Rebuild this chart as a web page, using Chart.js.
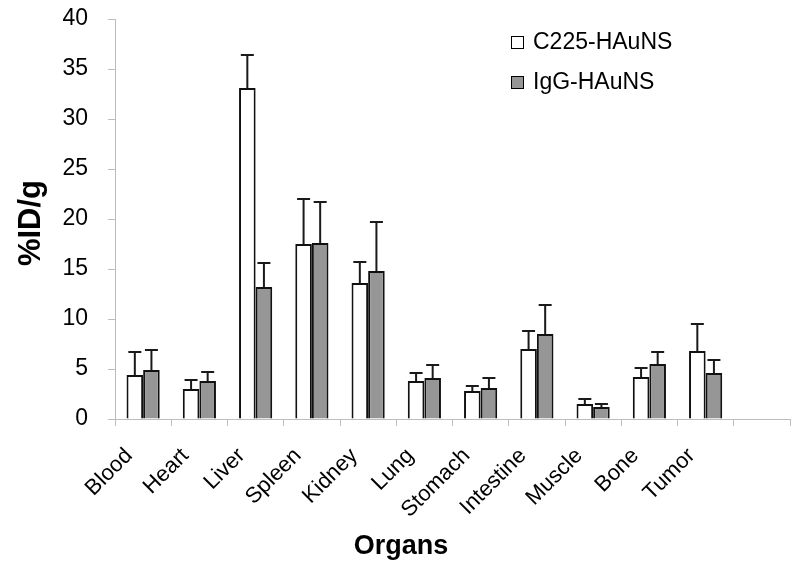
<!DOCTYPE html>
<html>
<head>
<meta charset="utf-8">
<script src="https://cdn.jsdelivr.net/npm/chart.js@4"></script>
<style>
  html, body { margin: 0; padding: 0; background: #fff; }
  #wrap { width: 800px; height: 569px; }
</style>
</head>
<body>
<div id="wrap"><canvas id="chart"></canvas></div>
<script>
const organs = ["Blood", "Heart", "Liver", "Spleen", "Kidney", "Lung", "Stomach",
  "Intestine", "Muscle", "Bone", "Tumor", ""];
const seriesNames = ["C225-HAuNS", "IgG-HAuNS"];
const c225Values = [4.4, 3.0, 33.1, 17.5, 13.6, 3.8, 2.8, 7.0, 1.5, 4.2, 6.8, null];
const c225Errors = [2.3, 0.9, 3.3, 4.5, 2.1, 0.8, 0.5, 1.8, 0.5, 0.9, 2.7, null];
const iggValues = [4.9, 3.8, 13.2, 17.6, 14.8, 4.1, 3.1, 8.5, 1.2, 5.5, 4.6, null];
const iggErrors = [2.0, 0.9, 2.4, 4.1, 4.9, 1.3, 1.0, 2.9, 0.3, 1.2, 1.3, null];
const yTicks = [0, 5, 10, 15, 20, 25, 30, 35, 40];

const errors = [c225Errors, iggErrors];

// upper error bars on top of each bar
const errorBarPlugin = {
  id: "errorBars",
  afterDatasetsDraw(chart) {
    const ctx = chart.ctx;
    const y = chart.scales.y;
    ctx.save();
    ctx.strokeStyle = "#1a1a1a";
    ctx.lineWidth = 2;
    chart.data.datasets.forEach((ds, i) => {
      const meta = chart.getDatasetMeta(i);
      meta.data.forEach((bar, j) => {
        const v = ds.data[j];
        const e = errors[i][j];
        if (v == null || e == null) return;
        const top = y.getPixelForValue(v + e);
        ctx.beginPath();
        ctx.moveTo(bar.x, bar.y);
        ctx.lineTo(bar.x, top);
        ctx.moveTo(bar.x - 6.5, top);
        ctx.lineTo(bar.x + 6.5, top);
        ctx.stroke();
      });
    });
    ctx.restore();
  }
};

// legend box and axis titles
const decorPlugin = {
  id: "decor",
  afterDraw(chart) {
    const ctx = chart.ctx;
    ctx.save();
    chart.data.datasets.forEach((ds, i) => {
      const cy = 42 + i * 40;
      ctx.fillStyle = ds.backgroundColor;
      ctx.fillRect(511, cy - 6, 12, 12);
      ctx.strokeStyle = "#000";
      ctx.lineWidth = 1;
      ctx.strokeRect(511.5, cy - 5.5, 12, 12);
      ctx.fillStyle = "#000";
      ctx.font = "23px 'Liberation Sans', Arial, sans-serif";
      ctx.textBaseline = "middle";
      ctx.textAlign = "left";
      ctx.fillText(ds.label, 533, cy + 1);
    });
    ctx.font = "bold 27px 'Liberation Sans', Arial, sans-serif";
    ctx.textAlign = "center";
    ctx.textBaseline = "middle";
    ctx.fillText("Organs", 401, 547);
    ctx.translate(31, 223);
    ctx.rotate(-Math.PI / 2);
    ctx.font = "bold 31px 'Liberation Sans', Arial, sans-serif";
    ctx.fillText("%ID/g", 0, 0);
    ctx.restore();
  }
};

new Chart(document.getElementById("chart"), {
  type: "bar",
  data: {
    labels: organs,
    datasets: [
      {
        label: seriesNames[0],
        data: c225Values,
        backgroundColor: "#ffffff",
        borderColor: "#111111",
        borderWidth: 2,
      },
      {
        label: seriesNames[1],
        data: iggValues,
        backgroundColor: "#969696",
        borderColor: "#111111",
        borderWidth: 2,
      },
    ],
  },
  options: {
    responsive: true,
    maintainAspectRatio: false,
    animation: false,
    layout: { padding: { top: 19, right: 10, left: 0, bottom: 0 } },
    datasets: {
      bar: { categoryPercentage: 0.59, barPercentage: 1.0 },
    },
    plugins: {
      legend: { display: false },
      tooltip: { enabled: false },
    },
    scales: {
      x: {
        grid: {
          offset: true,
          drawOnChartArea: false,
          drawTicks: true,
          tickLength: 7,
          color: "#bdbdbd",
        },
        border: { color: "#bdbdbd", width: 1 },
        ticks: {
          color: "#000",
          font: { size: 22, family: "'Liberation Sans', Arial, sans-serif" },
          minRotation: 45,
          maxRotation: 45,
          autoSkip: false,
          padding: 17,
          labelOffset: -14,
        },
        afterFit(scale) { scale.height = 150; },
      },
      y: {
        min: 0,
        max: 40,
        afterBuildTicks(scale) { scale.ticks = yTicks.map(v => ({ value: v })); },
        grid: {
          drawOnChartArea: false,
          drawTicks: true,
          tickLength: 7,
          color: "#bdbdbd",
        },
        border: { color: "#bdbdbd", width: 1 },
        ticks: {
          color: "#000",
          font: { size: 23, family: "'Liberation Sans', Arial, sans-serif" },
          padding: 20,
        },
        afterFit(scale) {
          scale.width = 115;
          scale.paddingTop = 0;
          scale.paddingBottom = 0;
        },
      },
    },
  },
  plugins: [errorBarPlugin, decorPlugin],
});
</script>
</body>
</html>
